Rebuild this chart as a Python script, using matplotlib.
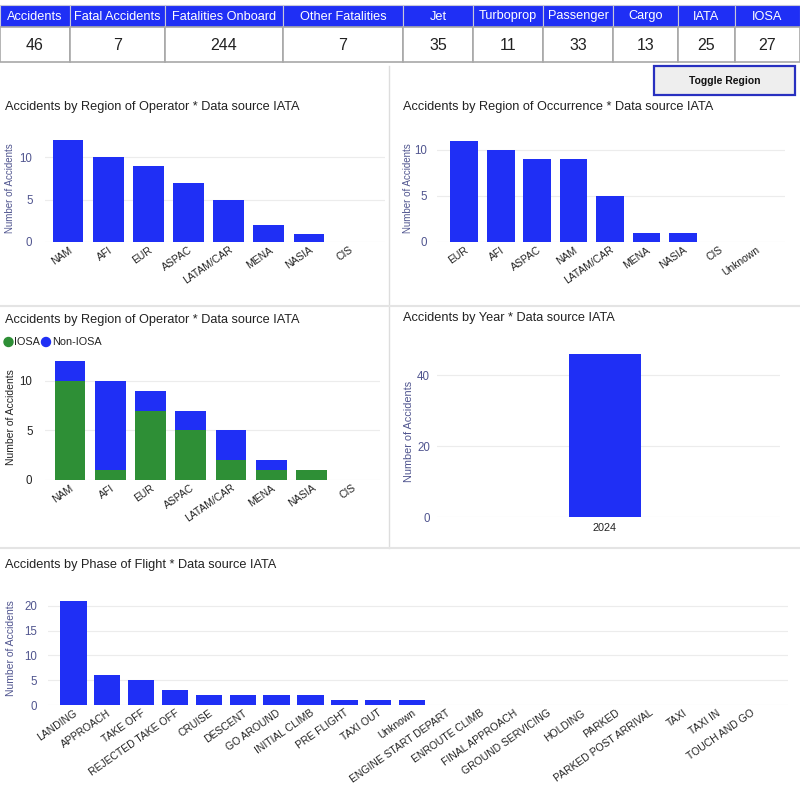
import matplotlib
matplotlib.use('Agg')
import matplotlib.pyplot as plt
from matplotlib.patches import Rectangle, Circle
import numpy as np

plt.rcParams['font.family'] = ['Liberation Sans', 'DejaVu Sans']

# ---- data ----
kpi_labels = ['Accidents', 'Fatal Accidents', 'Fatalities Onboard', 'Other Fatalities',
              'Jet', 'Turboprop', 'Passenger', 'Cargo', 'IATA', 'IOSA']
kpi_values = [46, 7, 244, 7, 35, 11, 33, 13, 25, 27]

op_regions = ['NAM', 'AFI', 'EUR', 'ASPAC', 'LATAM/CAR', 'MENA', 'NASIA', 'CIS']
op_counts = [12, 10, 9, 7, 5, 2, 1, 0]

occ_regions = ['EUR', 'AFI', 'ASPAC', 'NAM', 'LATAM/CAR', 'MENA', 'NASIA', 'CIS', 'Unknown']
occ_counts = [11, 10, 9, 9, 5, 1, 1, 0, 0]

iosa_counts = [10, 1, 7, 5, 2, 1, 1, 0]
non_iosa_counts = [2, 9, 2, 2, 3, 1, 0, 0]

years = ['2024']
year_counts = [46]

phases = ['LANDING', 'APPROACH', 'TAKE OFF', 'REJECTED TAKE OFF', 'CRUISE', 'DESCENT',
          'GO AROUND', 'INITIAL CLIMB', 'PRE FLIGHT', 'TAXI OUT', 'Unknown',
          'ENGINE START DEPART', 'ENROUTE CLIMB', 'FINAL APPROACH', 'GROUND SERVICING',
          'HOLDING', 'PARKED', 'PARKED POST ARRIVAL', 'TAXI', 'TAXI IN', 'TOUCH AND GO']
phase_counts = [21, 6, 5, 3, 2, 2, 2, 2, 1, 1, 1, 0, 0, 0, 0, 0, 0, 0, 0, 0, 0]

BLUE = '#1f2ff5'
GREEN = '#2e8f36'
TICK_C = '#50558f'
GRID_C = '#ececec'

W, H = 800, 800
fig = plt.figure(figsize=(8, 8), dpi=100)


def px_axes(x0, y0, x1, y1):
    # pixel box (top-left origin) -> figure axes
    return fig.add_axes([x0 / W, 1 - y1 / H, (x1 - x0) / W, (y1 - y0) / H])


# background layer: table, button, dividers, titles
bg = fig.add_axes([0, 0, 1, 1])
bg.set_xlim(0, W)
bg.set_ylim(H, 0)
bg.axis('off')

col_edges = [0, 70, 165, 283, 403, 473, 543, 613, 678, 735, 800]
for i, (lab, val) in enumerate(zip(kpi_labels, kpi_values)):
    x0, x1 = col_edges[i], col_edges[i + 1]
    bg.add_patch(Rectangle((x0, 5), x1 - x0, 22, facecolor=BLUE, edgecolor='#c8c8d8', lw=0.8))
    bg.add_patch(Rectangle((x0, 27), x1 - x0, 35, facecolor='white', edgecolor='#a8a8a8', lw=1.2))
    bg.text((x0 + x1) / 2, 16.5, lab, color='white', fontsize=9.2, ha='center', va='center')
    bg.text((x0 + x1) / 2, 45, str(val), color='#222222', fontsize=11.5, ha='center', va='center')

bg.add_patch(Rectangle((654, 66), 141, 29, facecolor='#eeeeee', edgecolor='#2830c0', lw=1.6))
bg.text(724.5, 80.5, 'Toggle Region', fontsize=7.5, fontweight='bold', ha='center', va='center', color='#111111')

bg.plot([389, 389], [66, 548], color='#dddddd', lw=1)
bg.plot([0, W], [306, 306], color='#e4e4e4', lw=1.5)
bg.plot([0, W], [548, 548], color='#e4e4e4', lw=1.5)

title_kw = dict(fontsize=9.2, color='#222222', ha='left', va='center')
bg.text(5, 107, 'Accidents by Region of Operator * Data source IATA', **title_kw)
bg.text(403, 107, 'Accidents by Region of Occurrence * Data source IATA', **title_kw)
bg.text(5, 320, 'Accidents by Region of Operator * Data source IATA', **title_kw)
bg.text(403, 318, 'Accidents by Year * Data source IATA', **title_kw)
bg.text(5, 565, 'Accidents by Phase of Flight * Data source IATA', **title_kw)

# legend for stacked chart
bg.add_patch(Circle((8.5, 342), 4.5, color=GREEN))
bg.text(14, 342, 'IOSA', fontsize=7.8, va='center', color='#222222')
bg.add_patch(Circle((46, 342), 4.5, color=BLUE))
bg.text(52, 342, 'Non-IOSA', fontsize=7.8, va='center', color='#222222')


def style_axes(ax, ylabel, label_x, ypad, yfs=7.0, color=TICK_C):
    for s in ax.spines.values():
        s.set_visible(False)
    ax.tick_params(axis='y', length=0, labelsize=8.3, labelcolor=color, pad=ypad)
    ax.tick_params(axis='x', length=0, labelsize=7.5, labelcolor='#222222', pad=2)
    ax.yaxis.grid(True, color=GRID_C, lw=0.8)
    ax.set_axisbelow(True)
    ax.set_ylabel(ylabel, fontsize=yfs, color=color)
    # right edge of the rotated y label at a pixel x position
    bb = ax.get_position()
    ax.yaxis.set_label_coords((label_x / W - bb.x0) / bb.width, 0.5)


def rot_labels(ax, labels, rot=35):
    ax.set_xticks(np.arange(len(labels)))
    ax.set_xticklabels(labels, rotation=rot, ha='right', rotation_mode='anchor')


# chart 1: region of operator
ax1 = px_axes(45, 135, 385, 242)
x = np.arange(len(op_regions))
ax1.bar(x, op_counts, width=0.76, color=BLUE)
ax1.set_xlim(-0.58, 7.9)
ax1.set_ylim(0, 12.6)
ax1.set_yticks([0, 5, 10])
rot_labels(ax1, op_regions)
style_axes(ax1, 'Number of Accidents', 15, 9)

# chart 2: region of occurrence
ax2 = px_axes(437, 135, 785, 242)
x = np.arange(len(occ_regions))
ax2.bar(x, occ_counts, width=0.76, color=BLUE)
ax2.set_xlim(-0.75, 8.8)
ax2.set_ylim(0, 11.6)
ax2.set_yticks([0, 5, 10])
rot_labels(ax2, occ_regions)
style_axes(ax2, 'Number of Accidents', 413, 7)

# chart 3: stacked IOSA / Non-IOSA
ax3 = px_axes(45, 355, 380, 480)
x = np.arange(len(op_regions))
ax3.bar(x, iosa_counts, width=0.76, color=GREEN)
ax3.bar(x, non_iosa_counts, bottom=iosa_counts, width=0.76, color=BLUE)
ax3.set_xlim(-0.62, 7.7)
ax3.set_ylim(0, 12.6)
ax3.set_yticks([0, 5, 10])
rot_labels(ax3, op_regions)
style_axes(ax3, 'Number of Accidents', 16, 9, yfs=7.5, color='#222222')

# chart 4: by year
ax4 = px_axes(437, 345, 780, 517)
ax4.bar(np.arange(len(years)), year_counts, width=1.0, color=BLUE)
ax4.set_xlim(-2.35, 2.45)
ax4.set_ylim(0, 48.5)
ax4.set_yticks([0, 20, 40])
ax4.set_xticks(np.arange(len(years)))
ax4.set_xticklabels(years)
style_axes(ax4, 'Number of Accidents', 414, 5, yfs=7.8)
ax4.tick_params(axis='x', labelsize=7.8, pad=4)

# chart 5: phase of flight
ax5 = px_axes(48, 592, 788, 705)
x = np.arange(len(phases))
ax5.bar(x, phase_counts, width=0.78, color=BLUE)
ax5.set_xlim(-0.75, 21.1)
ax5.set_ylim(0, 22.8)
ax5.set_yticks([0, 5, 10, 15, 20])
rot_labels(ax5, phases)
style_axes(ax5, 'Number of Accidents', 16, 8, yfs=7.5)

fig.savefig('out.png', dpi=100)
